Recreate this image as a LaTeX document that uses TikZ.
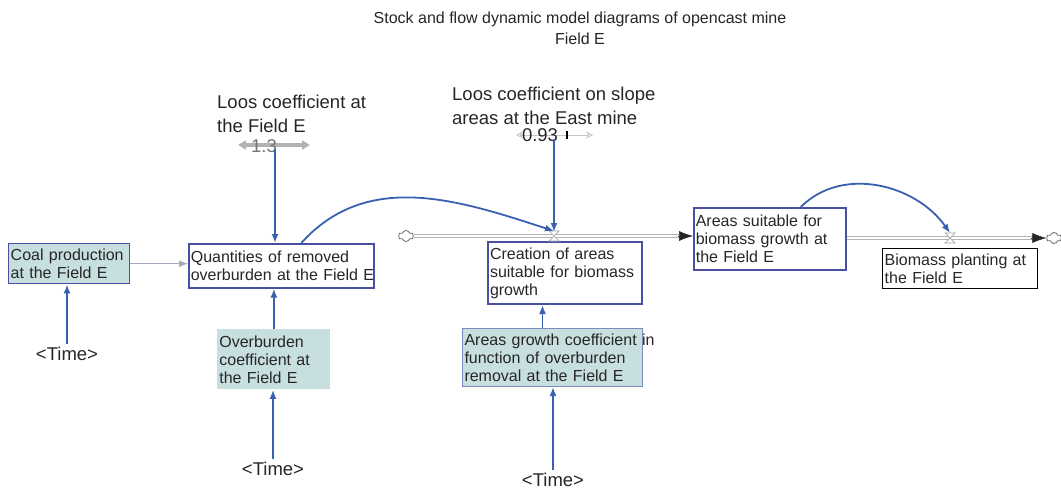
\documentclass[tikz,border=0pt]{standalone}
\usepackage{fontspec}
\setmainfont{Liberation Sans}
\usetikzlibrary{positioning,arrows.meta,shapes.symbols}
\definecolor{boxblue}{HTML}{4A4FA6}
\definecolor{linkblue}{HTML}{3A60B0}
\definecolor{auxfill}{HTML}{C8DFE0}
\definecolor{pipegray}{HTML}{B4B4B4}
\definecolor{inkgray}{HTML}{262626}

\begin{document}
\begin{tikzpicture}[x=1pt,y=-1pt,
	every node/.style={text=inkgray},
	box/.style={draw=boxblue, line width=1.6pt, anchor=north west, align=left, inner xsep=2pt, inner ysep=1pt, font=\fontsize{16}{18}\selectfont},
	aux/.style={box, fill=auxfill, draw=auxfill!75!gray, line width=0.8pt},
	lbl/.style={align=left, inner sep=0pt, font=\fontsize{18.5}{23.5}\selectfont},
	timelbl/.style={font=\fontsize{18.5}{22}\selectfont},
	link/.style={draw=linkblue, line width=1.8pt, -{Latex[length=9pt,width=7pt]}},
	pipe/.style={draw=pipegray, double=white, double distance=2.5pt, line width=1pt},
	flowhead/.style={-{Latex[length=14pt,width=10pt]}, black!85, line width=0.5pt},
	sky/.style={cloud, cloud puffs=6, draw=gray!80!black, line width=0.8pt, minimum width=15pt, minimum height=11pt, inner sep=0pt}]
	\useasboundingbox (0,0) rectangle (1061,492);

	\node[align=center, font=\fontsize{16}{21}\selectfont] (title) at (580,28) {Stock and flow dynamic model diagrams of opencast mine\\Field E};

	\node[aux, draw=boxblue, line width=1.4pt, text width=117pt, minimum height=40pt] (coal) at (8,243) {Coal production\\at the Field E};
	\node[box, text width=181pt, minimum height=44pt] (qty) at (188,243) {Quantities of removed\\\mbox{overburden at the Field E}};
	\node[aux, draw=none, text width=109pt, minimum height=60pt] (ovb) at (217,329) {Overburden\\coefficient at\\the Field E};
	\node[box, line width=2pt, text width=150pt, minimum height=62pt] (cre) at (487,241) {Creation of areas\\suitable for biomass\\growth};
	\node[aux, draw=boxblue!60!auxfill, line width=1pt, text width=176pt, minimum height=58pt] (agc) at (462,328) {\mbox{Areas growth coefficient}\rlap{ in}\\function of overburden\\removal at the Field E};
	\node[box, text width=148pt, minimum height=62pt] (areas) at (693,207) {Areas suitable for\\biomass growth at\\the Field E};
	\node[box, draw=black, line width=1.4pt, text width=151pt, minimum height=40pt] (bio) at (882,248) {Biomass planting at\\the Field E};

	\node[timelbl] (time1) at (67,354) {<Time>};
	\node[timelbl] (time2) at (273,469) {<Time>};
	\node[timelbl] (time3) at (553,480) {<Time>};

	\node[lbl, anchor=north west] (loos1) at (217,95) {Loos coefficient at\\the Field E};
	\node[lbl, anchor=north west] (loos2) at (452,87) {Loos coefficient on slope\\areas at the East mine};

	% sliders
	\draw[gray!60, line width=3.5pt, {Triangle[length=8pt,width=9pt]}-{Triangle[length=8pt,width=9pt]}] (238,145) -- (310,145);
	\draw[gray!45, line width=0.8pt, {Stealth[open,length=7pt,width=7pt]}-{Stealth[open,length=7pt,width=7pt]}] (516,135) -- (593,135);
	\draw[black, line width=1.6pt] (567,131) -- (567,139);
	\node[font=\fontsize{18.5}{22}\selectfont, inner sep=0pt, text=gray!90!black] (val1) at (264,146) {1.3};
	\node[font=\fontsize{18.5}{22}\selectfont, inner sep=0pt] (val2) at (540,135) {0.93};
	\coordinate (knob1) at (275,149);
	\coordinate (knob2) at (554,139);

	% stock and flow pipes
	\node[sky] (src) at (406,236) {};
	\node[sky] (sink) at (1054,238) {};
	\coordinate (valve1) at (554,236);
	\coordinate (valve2) at (950,238);
	\draw[pipe, shorten >=13pt] (src.east) -- (src.east -| areas.west);
	\draw[flowhead] ([xshift=-15pt]src.east -| areas.west) -- (src.east -| areas.west);
	\draw[pipe, shorten >=13pt] (areas.east |- sink.west) -- (sink.west);
	\draw[flowhead] ([xshift=-15pt]sink.west) -- (sink.west);
	\foreach \v in {valve1,valve2}
		\draw[gray!70, line width=0.7pt, fill=white] (\v) ++(-5,-5) -- ++(10,0) -- ++(-10,10) -- ++(10,0) -- cycle;

	% links
	\draw[link] (time1.north) -- (time1.north |- coal.south);
	\draw[link, draw=linkblue!40!gray!60, line width=0.9pt] (coal.east) -- (coal.east -| qty.west);
	\draw[link] (ovb.north) -- (ovb.north |- qty.south);
	\draw[link] (time2.north) -- (time2.north |- ovb.south);
	\draw[link] (knob1) -- (knob1 |- qty.north);
	\draw[link, shorten >=4pt] (knob2) -- (valve1);
	\draw[link] ([xshift=-10pt]agc.north) -- ([xshift=-10pt]agc.north |- cre.south);
	\draw[link] (time3.north) -- (time3.north |- agc.south);
	\draw[link] ([xshift=20pt]qty.north) to[out=48,in=162] ([yshift=5pt]valve1);
	\draw[link] ([xshift=31pt]areas.north) to[out=45,in=125] ([yshift=5pt]valve2);
\end{tikzpicture}
\end{document}
